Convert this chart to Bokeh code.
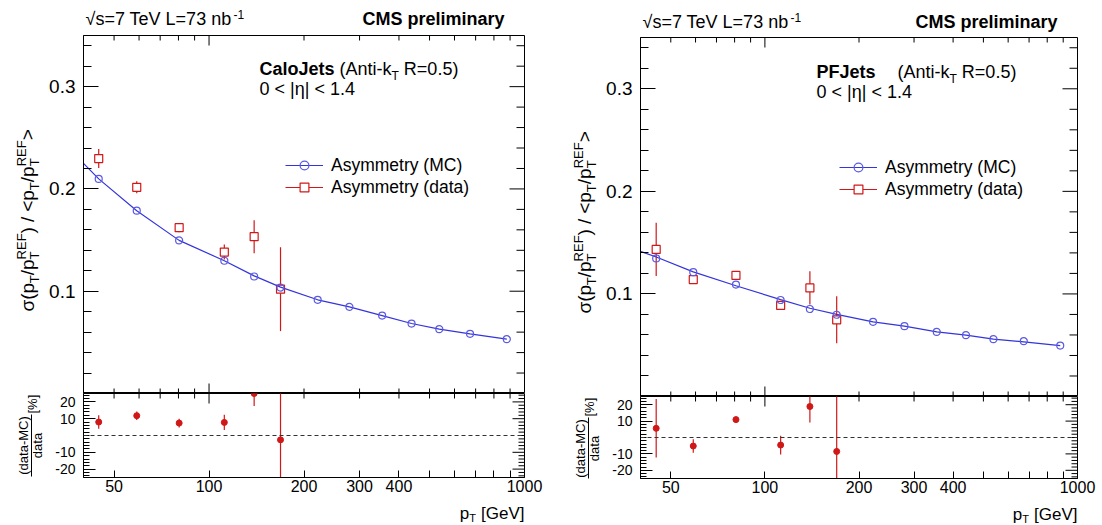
import math
from bokeh.plotting import figure
from bokeh.models import (Range1d, LogAxis, LinearAxis, FixedTicker, PrintfTickFormatter,
                          Label, Legend, LegendItem, Span, ColumnDataSource)
from bokeh.layouts import row, column
from bokeh.embed import file_html
from bokeh.resources import INLINE

# ---------------- data ----------------
calo_mc_pt = [44.7, 59.0, 80.4, 111.8, 139.0, 168.5, 221.0, 278.6, 353.8, 438.5, 537.0, 672.0, 879.0]
calo_mc_sigma = [0.2098, 0.1787, 0.1497, 0.1298, 0.1144, 0.1036, 0.0916, 0.0847, 0.0762, 0.0684, 0.0629, 0.0583, 0.0531]
calo_fit_pt = [40.0, 44.7, 59.0, 80.4, 111.8, 139.0, 168.5, 221.0, 278.6, 353.8, 438.5, 537.0, 672.0, 879.0]
calo_fit_sigma = [0.2250, 0.2098, 0.1787, 0.1497, 0.1298, 0.1150, 0.1040, 0.0916, 0.0847, 0.0762, 0.0684, 0.0629, 0.0583, 0.0531]
calo_data_pt = [44.7, 59.0, 80.4, 111.8, 139.0, 168.5]
calo_data_sigma = [0.2297, 0.2016, 0.1621, 0.1383, 0.1533, 0.1020]
calo_data_err = [0.0093, 0.0059, 0.0044, 0.0073, 0.0162, 0.0410]
calo_ratio = [8.0, 11.8, 7.4, 7.8, 25.0, -2.6]
calo_ratio_err = [4.0, 2.5, 2.6, 4.6, 7.4, 41.0]

pf_mc_pt = [44.9, 59.0, 80.8, 112.3, 139.3, 169.7, 221.8, 279.5, 354.7, 440.0, 538.6, 673.5, 880.5]
pf_mc_sigma = [0.1346, 0.1212, 0.1091, 0.0941, 0.0853, 0.0797, 0.0728, 0.0686, 0.0630, 0.0598, 0.0559, 0.0539, 0.0496]
pf_fit_pt = [40.0, 44.9, 59.0, 80.8, 112.3, 139.3, 169.7, 221.8, 279.5, 354.7, 440.0, 538.6, 673.5, 880.5]
pf_fit_sigma = [0.1415, 0.1360, 0.1215, 0.1080, 0.0945, 0.0860, 0.0800, 0.0728, 0.0686, 0.0630, 0.0598, 0.0559, 0.0532, 0.0496]
pf_data_pt = [44.9, 59.0, 80.8, 112.3, 139.3, 169.7]
pf_data_sigma = [0.1434, 0.1140, 0.1180, 0.0888, 0.1059, 0.0748]
pf_data_err = [0.0260, 0.0040, 0.0020, 0.0040, 0.0163, 0.0229]
pf_ratio = [5.6, -5.2, 10.9, -4.6, 18.9, -8.5]
pf_ratio_err = [17.8, 4.1, 1.8, 5.7, 9.8, 40.0]

x_labeled_ticks = [50, 100, 200, 300, 400, 1000]
x_decade_ticks = [100, 1000]
x_minor_ticks = [40, 50, 60, 70, 80, 90, 200, 300, 400, 500, 600, 700, 800, 900]
x_bottom_minor = [500, 600, 700, 800, 900]
y_main_major = [0.1, 0.2, 0.3]
y_main_minor = [0.02, 0.04, 0.06, 0.08, 0.12, 0.14, 0.16, 0.18, 0.22, 0.24, 0.26, 0.28, 0.32, 0.34]
y_ratio_major = [-20, -10, 10, 20]
y_ratio_minor = [-24, -22, -18, -16, -14, -12, -8, -6, -4, -2, 0, 2, 4, 6, 8, 12, 14, 16, 18, 22, 24]

FONT = "Liberation Sans"
BLUE = "#3434dc"
MC_BLUE = "#5a5ae2"
RED = "#d01818"
XB = 28   # fixed bottom border of the ratio plots (x tick labels)
MID = 0.35  # distance (in em) from the alphabetic baseline up to the text middle

AW = {' ': 278, '(': 333, ')': 333, '-': 333, '.': 278, '/': 278, '<': 584, '=': 584, '>': 584,
      '[': 278, ']': 278, '|': 260, '%': 889, 'A': 667, 'C': 722, 'E': 667, 'F': 611, 'G': 778,
      'J': 500, 'L': 556, 'M': 833, 'P': 667, 'R': 722, 'S': 667, 'T': 611, 'V': 667,
      'a': 556, 'b': 556, 'd': 556, 'e': 556, 'i': 222, 'k': 500, 'l': 222, 'm': 833, 'n': 556,
      'o': 556, 'p': 556, 'r': 333, 's': 500, 't': 278, 'y': 500, 'σ': 600, 'η': 556, '√': 549}
ABW = {' ': 278, 'C': 722, 'M': 833, 'S': 667, 'J': 556, 'P': 667, 'F': 611, 'a': 556, 'e': 556,
       'i': 278, 'l': 278, 'm': 889, 'n': 611, 'o': 611, 'p': 611, 'r': 389, 's': 556, 't': 333, 'y': 556}


def tw(s, bold=False):
    tab = ABW if bold else AW
    return sum(tab.get(c, AW.get(c, 556)) for c in s) / 1000.0


def P(text, size, shift=0, bold=False, adv=True, gap=0):
    return (text, size, shift, bold, adv, gap)


def rich_width(pieces):
    return sum((tw(t, b) * s if a else 0) + g for t, s, sh, b, a, g in pieces)


# anchor = (figure, page_x, page_y, data_x, data_y): the data point sits at that page point.
# (px, py) is the point on the alphabetic baseline; text is drawn with a middle baseline.
def add_label(anc, px, py, text, size, bold=False, angle=0.0, align="left", font=FONT):
    f, ax, ay, xd, yd = anc
    if angle == 0.0:
        py = py - MID * size
    else:
        px = px - MID * size
    f.add_layout(Label(x=xd, y=yd, x_offset=px - ax, y_offset=ay - py, text=text, angle=angle,
                       text_align=align, text_baseline="middle", text_font=font,
                       text_font_size=f"{size}px", text_font_style="bold" if bold else "normal",
                       text_color="black"))


def rich(anc, sx, sy, pieces, angle=0.0):
    pos = 0.0
    for text, size, shift, bold, adv, gap in pieces:
        pos += gap
        if angle == 0.0:
            px, py = sx + pos, sy - shift
        else:
            px, py = sx - shift, sy - pos
        add_label(anc, px, py, text, size, bold=bold, angle=angle)
        if adv:
            pos += tw(text, bold) * size


def text_panel(x0, y0, w, h, bottom=0):
    f = figure(width=w, height=h + bottom, x_range=Range1d(0, w), y_range=Range1d(0, h),
               min_border_left=0, min_border_right=0, min_border_top=0, min_border_bottom=bottom,
               x_axis_location=None, y_axis_location=None, toolbar_location=None,
               output_backend="svg", outline_line_color=None)
    f.xgrid.visible = False
    f.ygrid.visible = False
    return f, (f, x0, y0, 0, h)


def mk_axis(cls, major, minor, tin, tmin, size, standoff, fmt):
    a = cls(ticker=FixedTicker(ticks=major, minor_ticks=minor))
    a.major_tick_in = tin
    a.major_tick_out = 0
    a.minor_tick_in = tmin
    a.minor_tick_out = 0
    a.axis_label_standoff = 0
    a.axis_line_color = "black"
    a.major_tick_line_color = "black"
    a.minor_tick_line_color = "black"
    a.formatter = PrintfTickFormatter(format=fmt)
    a.major_label_text_font_size = size
    a.major_label_standoff = standoff
    a.major_label_text_font = FONT
    a.major_label_text_color = "black"
    return a


def rays(f, xs, ys, length, angle):
    f.ray(x=xs, y=ys, length=length, angle=angle, length_units="screen",
          line_color="black", line_width=1)


def make_pair(fw, fhm, fhr, bl, br, mc_pt, mc_sig, fit_pt, fit_sig,
              d_pt, d_sig, d_err, r_val, r_err, legend_loc):
    xr = Range1d(40, 1000)
    main = figure(x_axis_type="log", x_range=xr, y_range=Range1d(0, 0.35),
                  frame_width=fw, frame_height=fhm, min_border_left=bl, min_border_right=br,
                  min_border_top=0, min_border_bottom=0, x_axis_location=None,
                  y_axis_location=None, toolbar_location=None, output_backend="svg")
    ratio = figure(x_axis_type="log", x_range=xr, y_range=Range1d(-25, 25),
                   frame_width=fw, frame_height=fhr, min_border_left=bl, min_border_right=br,
                   min_border_top=0, min_border_bottom=XB, x_axis_location=None,
                   y_axis_location=None, toolbar_location=None, output_backend="svg")
    for f in (main, ratio):
        f.outline_line_color = "black"
        f.outline_line_alpha = 1.0
        f.outline_line_width = 1
        f.xgrid.visible = False
        f.ygrid.visible = False

    main.add_layout(mk_axis(LinearAxis, y_main_major, y_main_minor, 15, 8, "19px", 8, "%.1f"), "left")
    ratio.add_layout(mk_axis(LinearAxis, y_ratio_major, y_ratio_minor, 12, 6, "14px", 8, "%d"), "left")
    ratio.add_layout(mk_axis(LogAxis, x_labeled_ticks, x_bottom_minor, 7, 7, "16px", 2, "%d"), "below")

    # inner ticks on the unlabeled frame sides
    pi = math.pi
    for yv, ang in ((0.35, -pi / 2), (0.0, pi / 2)):
        rays(main, x_decade_ticks, [yv] * len(x_decade_ticks), 10, ang)
        rays(main, x_minor_ticks, [yv] * len(x_minor_ticks), 5, ang)
    rays(main, [1000] * len(y_main_major), y_main_major, 15, pi)
    rays(main, [1000] * len(y_main_minor), y_main_minor, 8, pi)
    rays(ratio, x_decade_ticks, [25] * len(x_decade_ticks), 10, -pi / 2)
    rays(ratio, x_minor_ticks, [25] * len(x_minor_ticks), 5, -pi / 2)
    rays(ratio, [1000] * len(y_ratio_major), y_ratio_major, 12, pi)
    rays(ratio, [1000] * len(y_ratio_minor), y_ratio_minor, 6, pi)

    src = ColumnDataSource(dict(x=d_pt, y=d_sig,
                                lo=[v - e for v, e in zip(d_sig, d_err)],
                                hi=[v + e for v, e in zip(d_sig, d_err)]))
    err = main.segment(x0="x", y0="lo", x1="x", y1="hi", source=src, line_color=RED, line_width=1.2)
    sq = main.scatter("x", "y", source=src, marker="square", size=8, line_color=RED,
                      fill_color="white", line_width=1.2)
    fit = main.line(fit_pt, fit_sig, line_color=BLUE, line_width=1.2)
    mc = main.scatter(mc_pt, mc_sig, marker="circle", size=7, line_color=MC_BLUE,
                      fill_color=None, line_width=1.2)

    leg = Legend(items=[LegendItem(label="Asymmetry (MC)", renderers=[fit, mc]),
                        LegendItem(label="Asymmetry (data)", renderers=[err, sq])],
                 location=legend_loc, glyph_width=38, glyph_height=22, label_height=22,
                 label_standoff=8, spacing=0, padding=0, margin=0,
                 border_line_color=None, background_fill_alpha=0.0,
                 label_text_font=FONT, label_text_font_size="17.5px", label_text_color="black")
    main.add_layout(leg)

    ratio.add_layout(Span(location=0, dimension="width", line_color="#333333",
                          line_dash="4 3", line_width=1))
    rsrc = ColumnDataSource(dict(x=d_pt, y=r_val,
                                 lo=[v - e for v, e in zip(r_val, r_err)],
                                 hi=[v + e for v, e in zip(r_val, r_err)]))
    ratio.segment(x0="x", y0="lo", x1="x", y1="hi", source=rsrc, line_color=RED, line_width=1.2)
    ratio.scatter("x", "y", source=rsrc, marker="circle", size=6, line_color=RED, fill_color=RED)
    return main, ratio


def build_block(x0, hdr_h, ytw, fw, fhm, fhr, bl, br, jet, jet_gap, data, legend_loc):
    fl = x0 + ytw + bl            # frame left (page)
    fr = fl + fw                  # frame right
    ft = hdr_h                    # main frame top
    rt = ft + fhm                 # ratio frame top
    block_w = ytw + bl + fw + br
    main, ratio = make_pair(fw, fhm, fhr, bl, br, *data, legend_loc)

    am = (main, fl, ft, 40, 0.35)
    hdr, ah = text_panel(x0, 0, block_w, hdr_h)
    ytl, ay = text_panel(x0, ft, ytw, fhm)
    rtl, ar = text_panel(x0, rt, ytw, fhr, bottom=XB)
    xt_top = rt + fhr + XB
    xt_h = 525 - xt_top
    xtl, ax = text_panel(x0, xt_top, block_w, xt_h)

    # header
    hb = 25 if hdr_h < 36 else 28
    rich(ah, fl + 2, hb, [P("√s=7 TeV L=73 nb", 18), P("-1", 12, 7)])
    cms = "CMS preliminary"
    add_label(ah, fr - 20 - tw(cms, True) * 18, hb, cms, 18, bold=True)
    # jet info inside the frame
    jx = fl + 176
    jb = ft + 39.5 + (hdr_h - 35) * 0.5
    rich(am, jx, jb, [P(jet, 18, 0, True), P("(Anti-k", 18, 0, False, True, jet_gap),
                      P("T", 12, -5), P("R=0.5)", 18, 0, False, True, 5)])
    add_label(am, jx, jb + 20.5, "0 < |η| < 1.4", 18)
    # rotated y title
    M, S = 19, 13
    ypieces = [P("σ(p", M), P("T", S, -5), P("/p", M), P("T", S, -5, False, False), P("REF", S, 8),
               P(")", M), P("/", M, 0, False, True, 5), P("<p", M, 0, False, True, 5), P("T", S, -5),
               P("/p", M), P("T", S, -5, False, False), P("REF", S, 8), P(">", M)]
    rich(ay, fl - 49, ft + 276, ypieces, angle=math.pi / 2)
    # ratio y title: fraction (data-MC)/data [%]
    cy = rt + 52
    add_label(ar, fl - 55, cy, "(data-MC)", 13, angle=math.pi / 2, align="center")
    lx = fl - 52 - x0
    rtl.segment(x0=[lx], y0=[fhr - (cy - 31 - rt)], x1=[lx], y1=[fhr - (cy + 31 - rt)],
                line_color="black", line_width=1)
    add_label(ar, fl - 41, cy, "data", 13, angle=math.pi / 2, align="center")
    add_label(ar, fl - 46, rt + 20, "[%]", 13, angle=math.pi / 2, align="left")
    # x title
    xp = [P("p", 17), P("T", 11, -3), P("[GeV]", 17, 0, False, True, 5)]
    w = rich_width(xp)
    rich(ax, fr - w, xt_top + 13.5, xp)

    return column(hdr, row(ytl, main), row(rtl, ratio), xtl)


calo_data = (calo_mc_pt, calo_mc_sigma, calo_fit_pt, calo_fit_sigma,
             calo_data_pt, calo_data_sigma, calo_data_err, calo_ratio, calo_ratio_err)
pf_data = (pf_mc_pt, pf_mc_sigma, pf_fit_pt, pf_fit_sigma,
           pf_data_pt, pf_data_sigma, pf_data_err, pf_ratio, pf_ratio_err)

left = build_block(0, 35, 45, 441, 358, 84, 38, 28, "CaloJets", 5, calo_data, (202, 195))
right = build_block(552, 37, 50, 437, 359, 82, 38, 20, "PFJets", 22, pf_data, (199, 196))

layout = row(left, right)

open("out.html", "w").write(file_html(layout, INLINE))
